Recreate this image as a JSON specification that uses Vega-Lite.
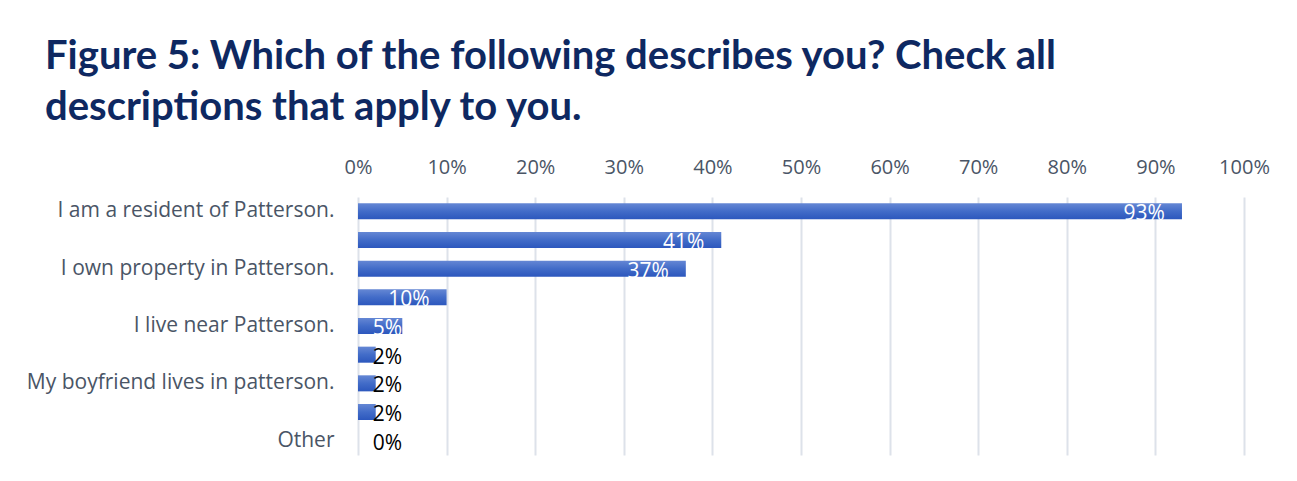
{
  "$schema": "https://vega.github.io/schema/vega-lite/v6.json",
  "width": 886,
  "height": 258,
  "autosize": {"type": "none"},
  "padding": {"left": 358, "top": 197, "right": 53, "bottom": 26},
  "background": "white",
  "config": {"view": {"stroke": null}},
  "title": {
    "text": ["Figure 5: Which of the following describes you? Check all", "descriptions that apply to you."],
    "anchor": "start",
    "frame": "group",
    "dx": -313,
    "font": "Lato",
    "fontSize": 40,
    "fontWeight": "bold",
    "color": "#0e2861",
    "lineHeight": 51,
    "offset": 29
  },
  "data": {
    "values": [
      {"description": "I am a resident of Patterson.", "share": 0.93},
      {"description": "(unlabeled row 2)", "share": 0.41},
      {"description": "I own property in Patterson.", "share": 0.37},
      {"description": "(unlabeled row 4)", "share": 0.10},
      {"description": "I live near Patterson.", "share": 0.05},
      {"description": "(unlabeled row 6)", "share": 0.02},
      {"description": "My boyfriend lives in patterson.", "share": 0.02},
      {"description": "(unlabeled row 8)", "share": 0.02},
      {"description": "Other", "share": 0}
    ]
  },
  "encoding": {
    "y": {
      "field": "description",
      "type": "nominal",
      "sort": null,
      "scale": {"paddingInner": 0.44, "paddingOuter": 0.22},
      "axis": {
        "title": null,
        "domain": false,
        "ticks": false,
        "labelPadding": 24,
        "labelFont": "Open Sans",
        "labelFontSize": 21,
        "labelColor": "#4a5566",
        "labelLimit": 400,
        "labelExpr": "indexof(datum.value, '(unlabeled') == 0 ? '' : datum.value"
      }
    }
  },
  "layer": [
    {
      "mark": {
        "type": "bar",
        "color": {
          "gradient": "linear",
          "x1": 0, "y1": 0, "x2": 0, "y2": 1,
          "stops": [
            {"offset": 0, "color": "#6587d4"},
            {"offset": 0.5, "color": "#426cc8"},
            {"offset": 1, "color": "#2c57bd"}
          ]
        }
      },
      "encoding": {
        "x": {
          "field": "share",
          "type": "quantitative",
          "scale": {"domain": [0, 1], "nice": false},
          "axis": {
            "orient": "top",
            "title": null,
            "values": [0, 0.1, 0.2, 0.3, 0.4, 0.5, 0.6, 0.7, 0.8, 0.9, 1],
            "format": ".0%",
            "labelFlush": false,
            "domain": false,
            "ticks": false,
            "labelPadding": 20,
            "labelFont": "Open Sans",
            "labelFontSize": 20,
            "labelColor": "#4a5566",
            "grid": true,
            "gridColor": "#dde2ea",
            "gridWidth": 2
          }
        }
      }
    },
    {
      "transform": [{"filter": "datum.share >= 0.1"}],
      "mark": {
        "type": "text",
        "align": "right",
        "baseline": "middle",
        "dx": -17,
        "dy": 3,
        "font": "Open Sans",
        "fontSize": 21,
        "color": "white"
      },
      "encoding": {
        "x": {"field": "share", "type": "quantitative"},
        "text": {"field": "share", "type": "quantitative", "format": ".0%"}
      }
    },
    {
      "transform": [{"filter": "datum.share < 0.1"}],
      "mark": {
        "type": "text",
        "align": "right",
        "baseline": "middle",
        "dx": 44,
        "dy": 3,
        "font": "Open Sans",
        "fontSize": 21
      },
      "encoding": {
        "x": {"datum": 0, "type": "quantitative"},
        "text": {"field": "share", "type": "quantitative", "format": ".0%"},
        "color": {
          "condition": {"test": "datum.share >= 0.05", "value": "white"},
          "value": "black"
        }
      }
    }
  ]
}
